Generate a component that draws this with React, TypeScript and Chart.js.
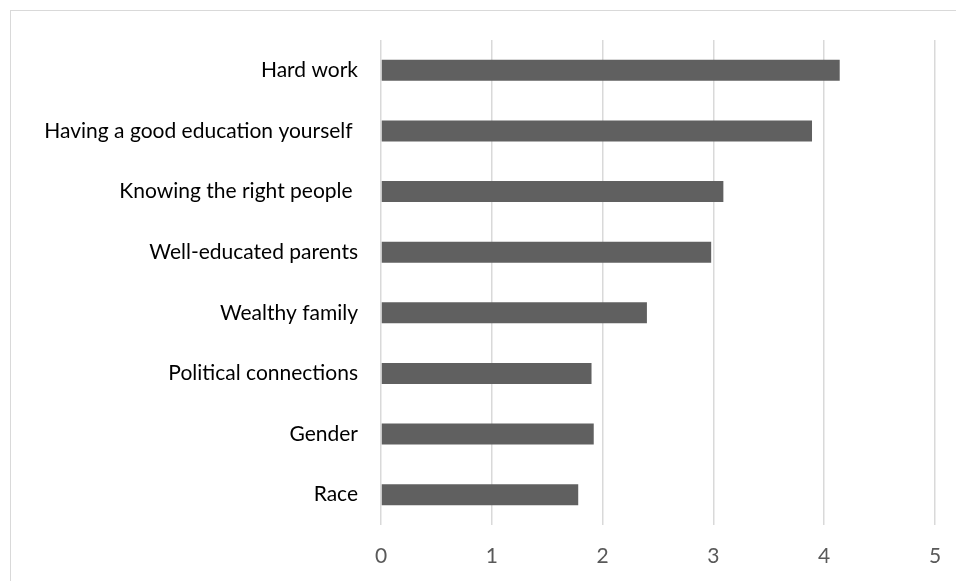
import React, { useEffect, useRef } from "react";
import { Chart, registerables } from "chart.js";

Chart.register(...registerables);

const categories = [
  "Hard work",
  "Having a good education yourself ",
  "Knowing the right people ",
  "Well-educated parents",
  "Wealthy family",
  "Political connections",
  "Gender",
  "Race",
];
const values = [4.14, 3.89, 3.09, 2.98, 2.4, 1.9, 1.92, 1.78];
const xTicks = [0, 1, 2, 3, 4, 5];

export default function App() {
  const ref = useRef<HTMLCanvasElement | null>(null);

  useEffect(() => {
    if (!ref.current) return;
    const font = "Lato, 'Open Sans', sans-serif";
    const chart = new Chart(ref.current, {
      type: "bar",
      data: {
        labels: categories,
        datasets: [
          {
            data: values,
            backgroundColor: "#606060",
            borderWidth: 0,
            categoryPercentage: 1,
            barPercentage: 0.345,
          },
        ],
      },
      options: {
        indexAxis: "y",
        animation: false,
        responsive: false,
        maintainAspectRatio: false,
        layout: { padding: { top: 40, right: 21, left: 0, bottom: 0 } },
        plugins: { legend: { display: false }, tooltip: { enabled: false } },
        scales: {
          x: {
            min: 0,
            max: 5,
            afterBuildTicks: (scale: any) => {
              scale.ticks = xTicks.map((v) => ({ value: v }));
            },
            afterFit: (scale: any) => {
              scale.height = 56;
              scale.paddingLeft = 0;
              scale.paddingRight = 0;
            },
            grid: { color: "#d9d9d9", lineWidth: 1.5, drawTicks: false },
            border: { display: false },
            ticks: {
              color: "#595959",
              padding: 19,
              maxRotation: 0,
              font: { family: font, size: 21 },
            },
          },
          y: {
            afterFit: (scale: any) => {
              scale.width = 381;
              scale.paddingTop = 0;
              scale.paddingBottom = 0;
            },
            grid: { display: false, drawTicks: false },
            border: { display: false },
            ticks: {
              color: "#000000",
              padding: 23,
              font: { family: font, size: 21 },
            },
          },
        },
      },
    });
    return () => chart.destroy();
  }, []);

  return (
    <div
      style={{
        position: "absolute",
        left: 0,
        top: 0,
        width: 956,
        height: 581,
        overflow: "hidden",
        background: "#ffffff",
      }}
    >
      <div
        style={{
          position: "absolute",
          left: 10,
          top: 10,
          width: 1000,
          height: 700,
          border: "1.5px solid #d9d9d9",
          boxSizing: "border-box",
        }}
      />
      <canvas
        ref={ref}
        width={956}
        height={581}
        style={{ position: "absolute", left: 0, top: 0, width: 956, height: 581 }}
      />
    </div>
  );
}
